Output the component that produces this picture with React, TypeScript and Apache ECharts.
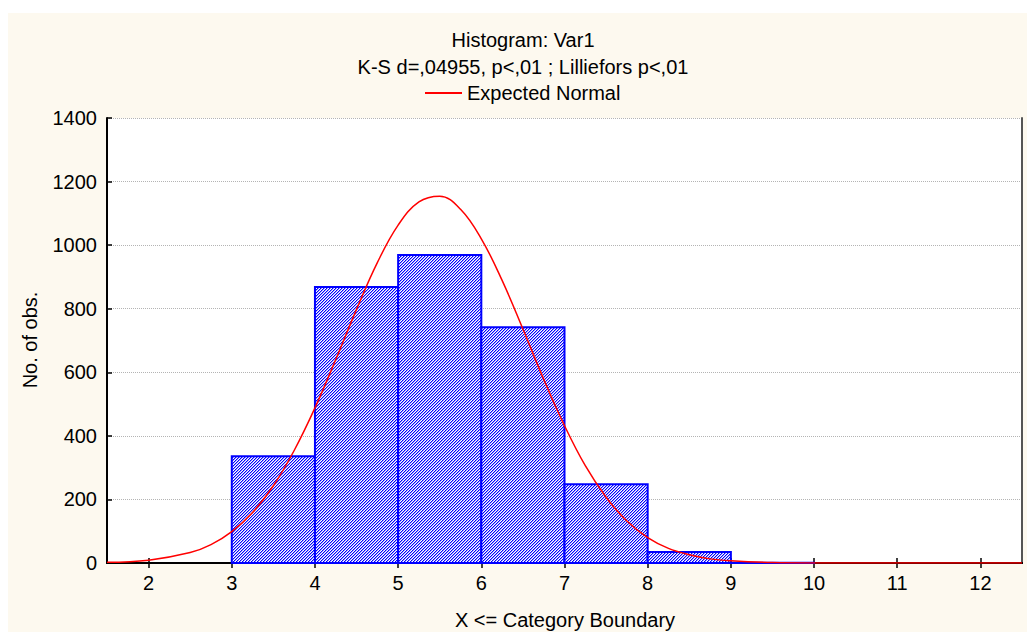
import React, { useEffect, useRef } from 'react';
import * as echarts from 'echarts';

// Histogram bins (category boundaries) and observed counts
const binLower = [3, 4, 5, 6, 7, 8, 9, 10, 11];
const binUpper = [4, 5, 6, 7, 8, 9, 10, 11, 12];
const counts = [336, 868, 969, 742, 248, 35, 1, 0, 0];

// Expected normal curve
const curveX = [1.5, 2, 2.5, 2.75, 3, 3.25, 3.5, 3.75, 4, 4.25, 4.5, 4.75, 5, 5.25, 5.5, 5.75, 6, 6.25, 6.5, 6.75, 7, 7.25, 7.5, 7.75, 8, 8.25, 8.5, 8.75, 9, 9.5, 10, 11, 12, 12.5];
const curveY = [2, 9, 33, 58, 99, 159, 243, 354, 488, 640, 798, 945, 1063, 1136, 1154, 1113, 1020, 889, 736, 578, 432, 306, 207, 132, 80, 46, 26, 13, 7, 1.4, 0.2, 0, 0, 0];

const xTicks = [2, 3, 4, 5, 6, 7, 8, 9, 10, 11, 12];

const titleText = 'Histogram: Var1';
const subtitleText = 'K-S d=,04955, p<,01 ; Lilliefors p<,01';
const legendName = 'Expected Normal';
const xName = 'X <= Category Boundary';
const yName = 'No. of obs.';

const FONT = '"Liberation Sans", Arial, sans-serif';

export default function App() {
  const ref = useRef<HTMLDivElement>(null);

  useEffect(() => {
    if (!ref.current) return;
    const chart = echarts.init(ref.current, undefined, { renderer: 'svg' });

    const c = document.createElement('canvas');
    c.width = 3;
    c.height = 3;
    const ctx = c.getContext('2d')!;
    ctx.fillStyle = '#ffffff';
    ctx.fillRect(0, 0, 3, 3);
    for (let i = 0; i < 3; i++) {
      ctx.fillStyle = '#0000ff';
      ctx.fillRect(2 - i, i, 1, 1);
      ctx.fillStyle = '#9a9aff';
      ctx.fillRect((3 - i) % 3, i, 1, 1);
    }
    const pattern: any = { image: c, repeat: 'repeat', imageWidth: 3, imageHeight: 3 };

    const barData = binLower.map((lo, i) => [lo, binUpper[i], counts[i]]);
    const curveData = curveX.map((x, i) => [x, curveY[i]]);

    const xAxisCommon = {
      type: 'value',
      min: 1.5,
      max: 12.5,
      splitLine: { show: false },
    };

    chart.setOption({
      animation: false,
      textStyle: { fontFamily: FONT },
      grid: {
        left: 99,
        top: 105,
        right: 5,
        bottom: 69,
        show: true,
        backgroundColor: '#ffffff',
        borderWidth: 0,
      },
      legend: {
        data: [legendName],
        left: 417,
        top: 70,
        padding: 0,
        icon: 'rect',
        itemWidth: 37,
        itemHeight: 2,
        textStyle: { fontSize: 20, color: '#000', fontFamily: FONT, lineHeight: 20 },
      },
      graphic: [
        {
          type: 'text',
          x: 515,
          y: 27,
          style: { text: titleText, fontSize: 20, fontFamily: FONT, fill: '#000', textAlign: 'center', textVerticalAlign: 'middle' },
        },
        {
          type: 'text',
          x: 515,
          y: 54,
          style: { text: subtitleText, fontSize: 20, fontFamily: FONT, fill: '#000', textAlign: 'center', textVerticalAlign: 'middle' },
        },
        {
          type: 'text',
          x: 557,
          y: 607,
          style: { text: xName, fontSize: 20, fontFamily: FONT, fill: '#000', textAlign: 'center', textVerticalAlign: 'middle' },
        },
        {
          type: 'text',
          x: 22,
          y: 327,
          rotation: Math.PI / 2,
          style: { text: yName, fontSize: 20, fontFamily: FONT, fill: '#000', textAlign: 'center', textVerticalAlign: 'middle' },
        },
      ],
      xAxis: [
        {
          ...xAxisCommon,
          position: 'bottom',
          axisLine: { show: true, lineStyle: { color: '#000', width: 2 } },
          axisTick: { show: true, inside: true, length: 5, customValues: xTicks, lineStyle: { color: '#000', width: 1.5 } },
          axisLabel: { customValues: xTicks, fontSize: 20, color: '#000', margin: 10, fontFamily: FONT },
        },
        {
          ...xAxisCommon,
          position: 'top',
          axisLine: { show: true, lineStyle: { color: '#000', width: 2 } },
          axisTick: { show: true, inside: true, length: 5, customValues: xTicks, lineStyle: { color: '#000', width: 1.5 } },
          axisLabel: { show: false },
        },
      ],
      yAxis: [
        {
          type: 'value',
          min: 0,
          max: 1400,
          interval: 200,
          position: 'left',
          axisLine: { show: true, lineStyle: { color: '#000', width: 2 } },
          axisTick: { show: true, inside: true, length: 5, lineStyle: { color: '#000', width: 1.5 } },
          axisLabel: { fontSize: 20, color: '#000', margin: 10, fontFamily: FONT, formatter: (v: number) => String(v) },
          splitLine: { show: true, lineStyle: { type: 'dotted', color: '#b4b4b4', width: 1 } },
        },
        {
          type: 'value',
          min: 0,
          max: 1400,
          interval: 200,
          position: 'right',
          axisLine: { show: true, lineStyle: { color: '#555555', width: 2 } },
          axisTick: { show: false },
          axisLabel: { show: false },
          splitLine: { show: false },
        },
      ],
      series: [
        {
          type: 'custom',
          xAxisIndex: 0,
          yAxisIndex: 0,
          encode: { x: [0, 1], y: 2 },
          data: barData,
          renderItem: (params: any, api: any) => {
            const v = api.value(2);
            if (!(v > 0)) return null;
            const p0 = api.coord([api.value(0), v]);
            const p1 = api.coord([api.value(1), 0]);
            return {
              type: 'rect',
              shape: { x: p0[0], y: p0[1], width: p1[0] - p0[0], height: p1[1] - p0[1] },
              style: { fill: pattern, stroke: '#0000ff', lineWidth: 2 },
            };
          },
          z: 2,
        },
        {
          type: 'line',
          name: legendName,
          xAxisIndex: 0,
          yAxisIndex: 0,
          data: curveData,
          smooth: 0.4,
          showSymbol: false,
          symbol: 'none',
          lineStyle: { color: '#ff0000', width: 1.5 },
          itemStyle: { color: '#ff0000' },
          z: 3,
        },
      ],
    });

    return () => chart.dispose();
  }, []);

  return (
    <div
      style={{
        position: 'absolute',
        left: 8,
        top: 13,
        width: 1019,
        height: 619,
        background: '#fdf9ef',
      }}
    >
      <div ref={ref} style={{ width: 1019, height: 619 }} />
    </div>
  );
}
